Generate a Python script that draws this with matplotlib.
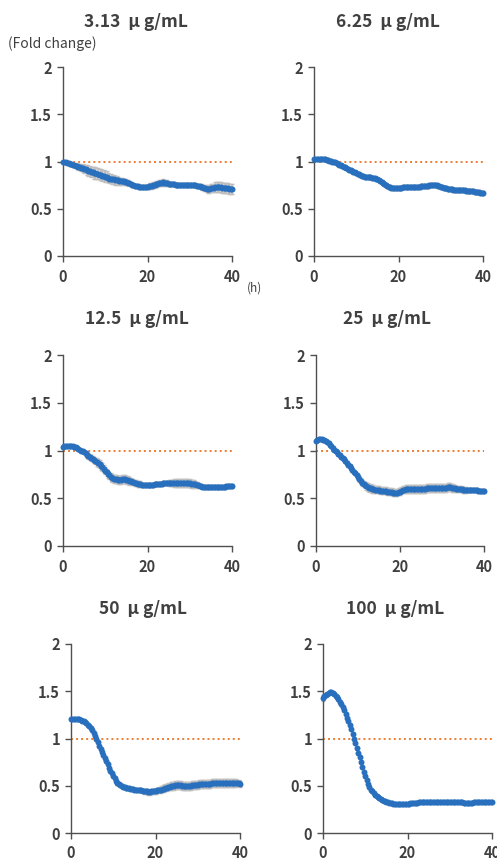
import numpy as np
import matplotlib
matplotlib.use('Agg')
import matplotlib.pyplot as plt

plt.rcParams['font.family'] = ['Noto Sans CJK JP', 'DejaVu Sans']

# sampling every 20 min, 0-40 h
TIME_H = np.arange(121) / 3.0

TITLES = ['3.13  μ g/mL', '6.25  μ g/mL', '12.5  μ g/mL', '25  μ g/mL', '50  μ g/mL', '100  μ g/mL']

FC_3_13 = [
    1.00, 0.99, 0.99, 0.98, 0.98, 0.97, 0.97, 0.96, 0.96, 0.95, 0.95, 0.94,
    0.94, 0.93, 0.93, 0.92, 0.92, 0.91, 0.90, 0.90, 0.89, 0.89, 0.88, 0.88,
    0.87, 0.87, 0.86, 0.86, 0.85, 0.85, 0.84, 0.84, 0.83, 0.82, 0.82, 0.81,
    0.81, 0.80, 0.80, 0.80, 0.79, 0.79, 0.79, 0.79, 0.78, 0.78, 0.77, 0.77,
    0.76, 0.75, 0.75, 0.74, 0.74, 0.74, 0.73, 0.73, 0.73, 0.73, 0.73, 0.73,
    0.73, 0.74, 0.74, 0.74, 0.75, 0.75, 0.76, 0.76, 0.77, 0.77, 0.77, 0.78,
    0.77, 0.77, 0.77, 0.76, 0.76, 0.76, 0.76, 0.76, 0.75, 0.75, 0.75, 0.75,
    0.75, 0.75, 0.75, 0.75, 0.75, 0.75, 0.75, 0.75, 0.75, 0.75, 0.75, 0.74,
    0.74, 0.74, 0.73, 0.73, 0.72, 0.72, 0.71, 0.71, 0.71, 0.72, 0.72, 0.72,
    0.73, 0.73, 0.73, 0.73, 0.73, 0.72, 0.72, 0.72, 0.72, 0.72, 0.71, 0.71,
    0.71]
SD_3_13 = [
    0.00, 0.01, 0.01, 0.01, 0.01, 0.02, 0.02, 0.02, 0.02, 0.02, 0.03, 0.03,
    0.03, 0.03, 0.04, 0.04, 0.04, 0.05, 0.05, 0.05, 0.05, 0.05, 0.06, 0.06,
    0.06, 0.06, 0.06, 0.06, 0.06, 0.06, 0.06, 0.06, 0.05, 0.05, 0.05, 0.05,
    0.05, 0.05, 0.05, 0.04, 0.04, 0.04, 0.04, 0.03, 0.03, 0.03, 0.03, 0.02,
    0.02, 0.02, 0.02, 0.02, 0.02, 0.02, 0.02, 0.02, 0.02, 0.02, 0.02, 0.02,
    0.02, 0.02, 0.03, 0.03, 0.03, 0.03, 0.03, 0.03, 0.03, 0.03, 0.03, 0.03,
    0.03, 0.03, 0.03, 0.02, 0.02, 0.02, 0.02, 0.02, 0.02, 0.02, 0.02, 0.02,
    0.02, 0.02, 0.02, 0.02, 0.02, 0.02, 0.02, 0.02, 0.02, 0.02, 0.02, 0.02,
    0.02, 0.02, 0.02, 0.03, 0.03, 0.03, 0.03, 0.04, 0.04, 0.04, 0.04, 0.04,
    0.05, 0.05, 0.05, 0.05, 0.05, 0.05, 0.05, 0.05, 0.05, 0.05, 0.05, 0.05,
    0.05]

FC_6_25 = [
    1.03, 1.03, 1.03, 1.03, 1.03, 1.03, 1.03, 1.03, 1.03, 1.02, 1.02, 1.01,
    1.01, 1.00, 0.99, 0.99, 0.98, 0.97, 0.96, 0.96, 0.95, 0.94, 0.94, 0.93,
    0.92, 0.91, 0.91, 0.90, 0.89, 0.89, 0.88, 0.87, 0.87, 0.86, 0.85, 0.85,
    0.84, 0.84, 0.84, 0.84, 0.84, 0.83, 0.83, 0.83, 0.82, 0.81, 0.80, 0.79,
    0.78, 0.77, 0.76, 0.75, 0.74, 0.73, 0.73, 0.72, 0.72, 0.72, 0.72, 0.72,
    0.72, 0.72, 0.72, 0.73, 0.73, 0.73, 0.73, 0.73, 0.73, 0.73, 0.73, 0.73,
    0.73, 0.73, 0.73, 0.73, 0.74, 0.74, 0.74, 0.74, 0.74, 0.74, 0.75, 0.75,
    0.75, 0.75, 0.75, 0.75, 0.74, 0.74, 0.73, 0.73, 0.72, 0.72, 0.72, 0.71,
    0.71, 0.71, 0.71, 0.70, 0.70, 0.70, 0.70, 0.70, 0.70, 0.70, 0.70, 0.70,
    0.69, 0.69, 0.69, 0.69, 0.69, 0.69, 0.68, 0.68, 0.68, 0.68, 0.67, 0.67,
    0.67]
SD_6_25 = [
    0.01, 0.01, 0.01, 0.01, 0.01, 0.01, 0.01, 0.01, 0.02, 0.02, 0.02, 0.02,
    0.02, 0.02, 0.02, 0.02, 0.02, 0.02, 0.02, 0.02, 0.02, 0.02, 0.02, 0.02,
    0.02, 0.02, 0.02, 0.02, 0.02, 0.02, 0.02, 0.02, 0.02, 0.02, 0.02, 0.02,
    0.02, 0.02, 0.02, 0.02, 0.02, 0.02, 0.02, 0.02, 0.02, 0.02, 0.02, 0.02,
    0.02, 0.02, 0.02, 0.02, 0.02, 0.02, 0.02, 0.02, 0.02, 0.02, 0.02, 0.02,
    0.02, 0.02, 0.02, 0.02, 0.02, 0.02, 0.02, 0.02, 0.02, 0.02, 0.02, 0.02,
    0.02, 0.02, 0.02, 0.02, 0.02, 0.02, 0.02, 0.02, 0.02, 0.02, 0.02, 0.02,
    0.02, 0.02, 0.02, 0.02, 0.02, 0.02, 0.02, 0.02, 0.02, 0.02, 0.02, 0.02,
    0.02, 0.02, 0.02, 0.02, 0.02, 0.02, 0.02, 0.02, 0.02, 0.02, 0.02, 0.02,
    0.02, 0.02, 0.02, 0.02, 0.02, 0.02, 0.02, 0.02, 0.02, 0.02, 0.02, 0.02,
    0.02]

FC_12_5 = [
    1.04, 1.05, 1.05, 1.05, 1.05, 1.05, 1.05, 1.05, 1.04, 1.04, 1.03, 1.02,
    1.01, 1.00, 0.99, 0.98, 0.97, 0.95, 0.94, 0.93, 0.92, 0.91, 0.90, 0.89,
    0.88, 0.87, 0.86, 0.84, 0.83, 0.81, 0.79, 0.77, 0.75, 0.74, 0.72, 0.71,
    0.70, 0.70, 0.70, 0.69, 0.69, 0.69, 0.70, 0.70, 0.70, 0.69, 0.69, 0.68,
    0.68, 0.67, 0.67, 0.66, 0.66, 0.65, 0.65, 0.65, 0.64, 0.64, 0.64, 0.64,
    0.64, 0.64, 0.64, 0.64, 0.64, 0.65, 0.65, 0.65, 0.65, 0.65, 0.65, 0.66,
    0.66, 0.66, 0.66, 0.66, 0.66, 0.66, 0.66, 0.66, 0.66, 0.66, 0.66, 0.66,
    0.66, 0.66, 0.66, 0.66, 0.66, 0.66, 0.66, 0.65, 0.65, 0.65, 0.65, 0.64,
    0.64, 0.63, 0.63, 0.62, 0.62, 0.62, 0.62, 0.62, 0.62, 0.62, 0.62, 0.62,
    0.62, 0.62, 0.62, 0.62, 0.62, 0.62, 0.62, 0.62, 0.63, 0.63, 0.63, 0.63,
    0.63]
SD_12_5 = [
    0.01, 0.01, 0.01, 0.01, 0.01, 0.01, 0.01, 0.01, 0.01, 0.01, 0.01, 0.01,
    0.01, 0.02, 0.02, 0.02, 0.03, 0.03, 0.03, 0.03, 0.03, 0.03, 0.03, 0.03,
    0.04, 0.04, 0.04, 0.04, 0.04, 0.04, 0.04, 0.04, 0.04, 0.04, 0.04, 0.04,
    0.04, 0.04, 0.04, 0.04, 0.04, 0.04, 0.04, 0.04, 0.04, 0.04, 0.04, 0.04,
    0.03, 0.03, 0.03, 0.03, 0.03, 0.03, 0.03, 0.03, 0.02, 0.02, 0.02, 0.02,
    0.02, 0.02, 0.02, 0.02, 0.02, 0.02, 0.02, 0.02, 0.02, 0.02, 0.02, 0.02,
    0.02, 0.02, 0.02, 0.03, 0.03, 0.03, 0.03, 0.04, 0.04, 0.04, 0.04, 0.04,
    0.04, 0.04, 0.04, 0.04, 0.04, 0.04, 0.04, 0.04, 0.04, 0.04, 0.03, 0.03,
    0.03, 0.02, 0.02, 0.02, 0.02, 0.02, 0.02, 0.02, 0.02, 0.02, 0.02, 0.02,
    0.02, 0.02, 0.02, 0.02, 0.02, 0.02, 0.02, 0.02, 0.02, 0.02, 0.02, 0.02,
    0.02]

FC_25 = [
    1.10, 1.11, 1.12, 1.12, 1.12, 1.11, 1.11, 1.10, 1.09, 1.08, 1.06, 1.05,
    1.03, 1.01, 1.00, 0.98, 0.96, 0.95, 0.93, 0.92, 0.91, 0.89, 0.87, 0.85,
    0.84, 0.82, 0.80, 0.78, 0.76, 0.74, 0.72, 0.70, 0.68, 0.66, 0.65, 0.64,
    0.63, 0.62, 0.61, 0.61, 0.60, 0.60, 0.59, 0.59, 0.59, 0.59, 0.58, 0.58,
    0.58, 0.58, 0.58, 0.57, 0.57, 0.57, 0.57, 0.56, 0.56, 0.56, 0.56, 0.57,
    0.57, 0.58, 0.59, 0.59, 0.60, 0.60, 0.60, 0.60, 0.60, 0.60, 0.60, 0.60,
    0.60, 0.60, 0.60, 0.60, 0.60, 0.60, 0.60, 0.61, 0.61, 0.61, 0.61, 0.61,
    0.61, 0.61, 0.61, 0.61, 0.61, 0.61, 0.61, 0.61, 0.61, 0.61, 0.62, 0.62,
    0.62, 0.61, 0.61, 0.61, 0.60, 0.60, 0.60, 0.60, 0.60, 0.59, 0.59, 0.59,
    0.59, 0.59, 0.59, 0.59, 0.59, 0.59, 0.59, 0.59, 0.58, 0.58, 0.58, 0.58,
    0.58]
SD_25 = [
    0.01, 0.01, 0.01, 0.01, 0.01, 0.01, 0.01, 0.01, 0.01, 0.01, 0.01, 0.01,
    0.02, 0.02, 0.02, 0.02, 0.02, 0.02, 0.02, 0.02, 0.02, 0.02, 0.02, 0.02,
    0.02, 0.02, 0.02, 0.02, 0.02, 0.02, 0.03, 0.03, 0.03, 0.03, 0.03, 0.03,
    0.04, 0.04, 0.04, 0.04, 0.04, 0.04, 0.04, 0.04, 0.04, 0.04, 0.04, 0.04,
    0.04, 0.04, 0.04, 0.04, 0.04, 0.04, 0.04, 0.04, 0.04, 0.04, 0.04, 0.04,
    0.04, 0.04, 0.04, 0.04, 0.04, 0.04, 0.04, 0.04, 0.04, 0.04, 0.04, 0.04,
    0.04, 0.04, 0.04, 0.04, 0.04, 0.04, 0.04, 0.04, 0.04, 0.04, 0.04, 0.04,
    0.04, 0.04, 0.04, 0.04, 0.04, 0.04, 0.04, 0.04, 0.04, 0.04, 0.04, 0.04,
    0.04, 0.04, 0.04, 0.03, 0.03, 0.03, 0.03, 0.03, 0.03, 0.03, 0.03, 0.03,
    0.02, 0.02, 0.02, 0.02, 0.02, 0.02, 0.02, 0.02, 0.02, 0.02, 0.02, 0.02,
    0.02]

FC_50 = [
    1.21, 1.21, 1.21, 1.21, 1.21, 1.21, 1.21, 1.20, 1.19, 1.18, 1.17, 1.16,
    1.14, 1.13, 1.11, 1.09, 1.06, 1.03, 1.00, 0.96, 0.92, 0.89, 0.86, 0.83,
    0.79, 0.76, 0.73, 0.69, 0.66, 0.63, 0.60, 0.58, 0.55, 0.53, 0.52, 0.51,
    0.50, 0.49, 0.49, 0.48, 0.48, 0.48, 0.47, 0.47, 0.47, 0.46, 0.46, 0.46,
    0.45, 0.45, 0.45, 0.44, 0.44, 0.44, 0.44, 0.43, 0.43, 0.44, 0.44, 0.44,
    0.44, 0.45, 0.45, 0.46, 0.46, 0.47, 0.47, 0.48, 0.48, 0.49, 0.49, 0.50,
    0.50, 0.50, 0.51, 0.51, 0.51, 0.51, 0.51, 0.50, 0.50, 0.50, 0.50, 0.50,
    0.50, 0.50, 0.51, 0.51, 0.51, 0.51, 0.51, 0.52, 0.52, 0.52, 0.52, 0.52,
    0.52, 0.52, 0.52, 0.52, 0.53, 0.53, 0.53, 0.53, 0.53, 0.53, 0.53, 0.53,
    0.53, 0.53, 0.53, 0.53, 0.53, 0.53, 0.53, 0.53, 0.53, 0.53, 0.53, 0.53,
    0.52]
SD_50 = [
    0.01, 0.01, 0.01, 0.01, 0.01, 0.01, 0.01, 0.01, 0.01, 0.01, 0.01, 0.01,
    0.01, 0.01, 0.01, 0.01, 0.01, 0.01, 0.01, 0.01, 0.01, 0.01, 0.01, 0.01,
    0.01, 0.01, 0.01, 0.01, 0.01, 0.01, 0.01, 0.01, 0.02, 0.02, 0.02, 0.02,
    0.02, 0.02, 0.02, 0.02, 0.02, 0.02, 0.02, 0.02, 0.02, 0.02, 0.02, 0.02,
    0.02, 0.02, 0.02, 0.02, 0.03, 0.03, 0.03, 0.03, 0.03, 0.03, 0.03, 0.03,
    0.03, 0.03, 0.03, 0.03, 0.04, 0.04, 0.04, 0.04, 0.04, 0.04, 0.04, 0.04,
    0.04, 0.04, 0.04, 0.04, 0.04, 0.04, 0.04, 0.04, 0.04, 0.04, 0.04, 0.04,
    0.04, 0.04, 0.04, 0.04, 0.04, 0.04, 0.04, 0.04, 0.04, 0.04, 0.04, 0.04,
    0.04, 0.04, 0.04, 0.04, 0.04, 0.04, 0.04, 0.04, 0.04, 0.04, 0.04, 0.04,
    0.04, 0.04, 0.04, 0.04, 0.04, 0.04, 0.04, 0.04, 0.04, 0.04, 0.03, 0.03,
    0.03]

FC_100 = [
    1.43, 1.45, 1.46, 1.47, 1.48, 1.49, 1.49, 1.48, 1.47, 1.45, 1.44, 1.42,
    1.39, 1.36, 1.33, 1.30, 1.26, 1.22, 1.18, 1.14, 1.10, 1.05, 1.00, 0.95,
    0.90, 0.85, 0.80, 0.75, 0.70, 0.65, 0.60, 0.56, 0.52, 0.49, 0.46, 0.44,
    0.42, 0.40, 0.39, 0.38, 0.37, 0.36, 0.35, 0.34, 0.34, 0.33, 0.33, 0.32,
    0.32, 0.32, 0.31, 0.31, 0.31, 0.31, 0.31, 0.31, 0.31, 0.31, 0.31, 0.31,
    0.31, 0.31, 0.32, 0.32, 0.32, 0.32, 0.32, 0.32, 0.33, 0.33, 0.33, 0.33,
    0.33, 0.33, 0.33, 0.33, 0.33, 0.33, 0.33, 0.33, 0.33, 0.33, 0.33, 0.33,
    0.33, 0.33, 0.33, 0.33, 0.33, 0.33, 0.33, 0.33, 0.33, 0.33, 0.33, 0.33,
    0.33, 0.33, 0.33, 0.33, 0.32, 0.32, 0.32, 0.32, 0.32, 0.32, 0.32, 0.33,
    0.33, 0.33, 0.33, 0.33, 0.33, 0.33, 0.33, 0.33, 0.33, 0.33, 0.33, 0.33,
    0.33]
SD_100 = [
    0.03, 0.01, 0.01, 0.01, 0.01, 0.01, 0.01, 0.01, 0.01, 0.01, 0.01, 0.01,
    0.01, 0.01, 0.01, 0.01, 0.01, 0.01, 0.01, 0.01, 0.01, 0.01, 0.01, 0.01,
    0.01, 0.01, 0.01, 0.01, 0.01, 0.01, 0.01, 0.01, 0.01, 0.01, 0.01, 0.01,
    0.01, 0.01, 0.01, 0.01, 0.01, 0.01, 0.01, 0.01, 0.01, 0.01, 0.01, 0.01,
    0.01, 0.01, 0.01, 0.01, 0.01, 0.01, 0.01, 0.01, 0.01, 0.01, 0.01, 0.01,
    0.01, 0.01, 0.01, 0.01, 0.01, 0.01, 0.01, 0.01, 0.01, 0.01, 0.01, 0.01,
    0.01, 0.01, 0.01, 0.01, 0.01, 0.01, 0.01, 0.01, 0.01, 0.01, 0.01, 0.01,
    0.01, 0.01, 0.01, 0.01, 0.01, 0.01, 0.01, 0.01, 0.01, 0.01, 0.01, 0.01,
    0.01, 0.01, 0.01, 0.01, 0.01, 0.01, 0.01, 0.01, 0.01, 0.01, 0.01, 0.01,
    0.01, 0.01, 0.01, 0.01, 0.01, 0.01, 0.01, 0.01, 0.01, 0.01, 0.01, 0.01,
    0.01]

SERIES = [FC_3_13, FC_6_25, FC_12_5, FC_25, FC_50, FC_100]
ERRORS = [SD_3_13, SD_6_25, SD_12_5, SD_25, SD_50, SD_100]

Y_TICKS = [0, 0.5, 1, 1.5, 2]
Y_TICK_LABELS = ['0', '0.5', '1', '1.5', '2']
X_TICKS = [0, 20, 40]
BASELINE = 1.0

W, H = 497, 866
# axes boxes in pixels: left, right, top, bottom
BOXES = [
    (63, 232, 67, 256), (314, 483, 67, 256),
    (63, 232, 355, 546), (316, 484, 355, 546),
    (71, 240, 644, 833), (323, 492, 644, 833),
]
TITLE_POS = [(136, 22), (388, 22), (137, 319), (387, 319), (143, 609), (395, 609)]

TXT = '#404040'
BLUE = '#2870BD'
ORANGE = '#ED7D31'
GREY = '#BEBEBE'


def main():
    fig = plt.figure(figsize=(W / 100, H / 100), dpi=100)

    for i, (l, r, t, b) in enumerate(BOXES):
        ax = fig.add_axes([l / W, 1 - b / H, (r - l) / W, (b - t) / H])
        ax.plot([0, 40], [BASELINE, BASELINE], color=ORANGE, lw=1.4,
                linestyle=(0, (1, 1.6)), zorder=1)
        ax.errorbar(TIME_H, SERIES[i], yerr=ERRORS[i], fmt='none', ecolor=GREY,
                    elinewidth=1.0, capsize=1.3, capthick=1.0, zorder=2, clip_on=False)
        ax.plot(TIME_H, SERIES[i], 'o', color=BLUE, ms=4.3, mec=BLUE, mew=0,
                zorder=3, clip_on=False)

        ax.set_xlim(0, 40)
        ax.set_ylim(0, 2)
        ax.set_xticks(X_TICKS)
        ax.set_yticks(Y_TICKS)
        ax.set_yticklabels(Y_TICK_LABELS)
        for side in ['top', 'right']:
            ax.spines[side].set_visible(False)
        for side in ['left', 'bottom']:
            ax.spines[side].set_color('#505050')
            ax.spines[side].set_linewidth(1.0)
        ax.tick_params(axis='both', colors='#505050', labelcolor=TXT, length=4,
                       width=1.0, labelsize=10.5)
        ax.tick_params(axis='x', pad=5)
        ax.tick_params(axis='y', pad=4)
        for lab in ax.get_xticklabels() + ax.get_yticklabels():
            lab.set_fontweight('bold')

        tx, ty = TITLE_POS[i]
        fig.text(tx / W, 1 - ty / H, TITLES[i], ha='center', va='center',
                 fontsize=12.5, fontweight='bold', color=TXT)

    fig.text(8 / W, 1 - 44 / H, '(Fold change)', ha='left', va='center',
             fontsize=10, color=TXT)
    fig.text(247 / W, 1 - 288 / H, '(h)', ha='left', va='center',
             fontsize=8.5, color=TXT)

    fig.savefig('out.png', dpi=100)


if __name__ == '__main__':
    main()
